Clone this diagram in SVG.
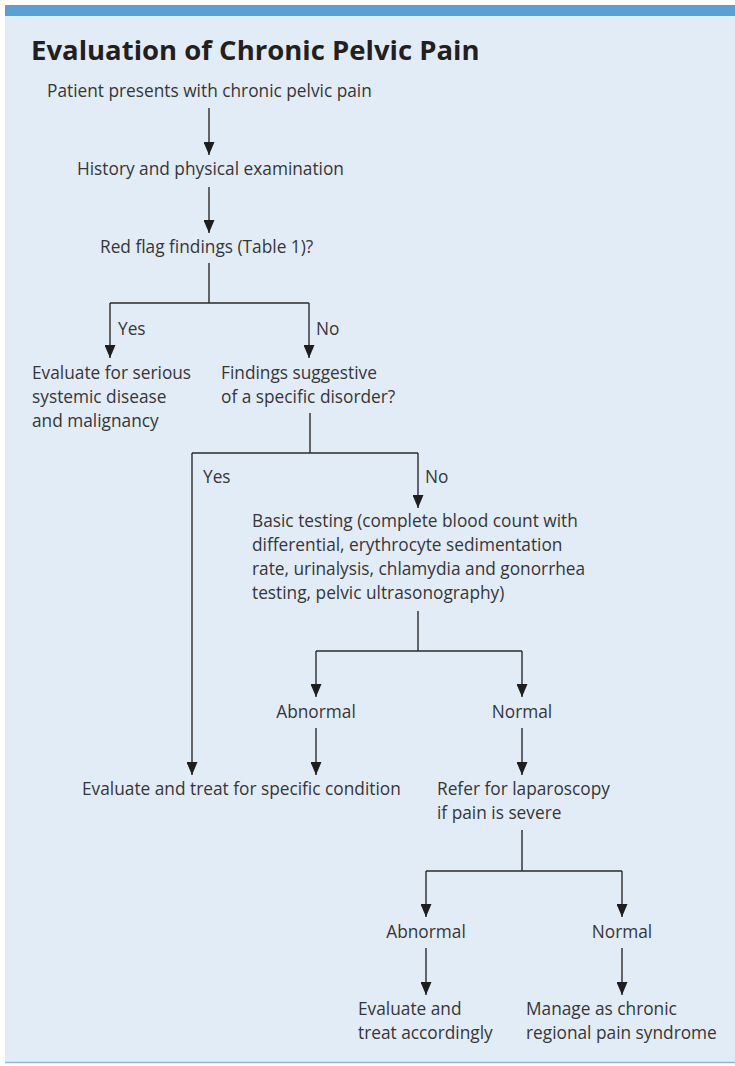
<svg xmlns="http://www.w3.org/2000/svg" width="735" height="1066" viewBox="0 0 735 1066">
<defs>
<style>
.t{font-family:"Open Sans","Noto Sans","Liberation Sans",sans-serif;font-size:17.3px;fill:#363636;}
.c{text-anchor:middle;}
.title{font-family:"Open Sans","Noto Sans","Liberation Sans",sans-serif;font-size:27.5px;font-weight:bold;fill:#231f20;}
.ln{fill:none;stroke:#2b2b2b;stroke-width:1.4;}
.ar{marker-end:url(#ah);}
</style>
<marker id="ah" markerUnits="userSpaceOnUse" markerWidth="13" markerHeight="11" refX="13" refY="5.5" orient="auto" viewBox="0 0 13 11">
<path d="M0,0 L13,5.5 L0,11 z" fill="#1e1e1e"/>
</marker>
</defs>
<rect x="5" y="5" width="730" height="1058" fill="#e2ecf7"/>
<rect x="5" y="5" width="730" height="11" fill="#5a9fd5"/>
<line x1="5" y1="1062.5" x2="735" y2="1062.5" stroke="#8db6da" stroke-width="1.5"/>
<text class="title" x="31" y="60">Evaluation of Chronic Pelvic Pain</text>

<g id="connectors">
<path class="ln ar" d="M209,108 V155"/>
<path class="ln ar" d="M209,187 V233"/>
<path class="ln" d="M209,263 V303 M110,303 H309"/>
<path class="ln ar" d="M110,303 V358"/>
<path class="ln ar" d="M309,303 V358"/>
<path class="ln" d="M310,413 V453 M192,453 H418"/>
<path class="ln ar" d="M192,453 V775"/>
<path class="ln ar" d="M418,453 V508"/>
<path class="ln" d="M418,611 V651 M316,651 H522"/>
<path class="ln ar" d="M316,651 V697"/>
<path class="ln ar" d="M522,651 V697"/>
<path class="ln ar" d="M316,728 V775"/>
<path class="ln ar" d="M522,728 V775"/>
<path class="ln" d="M522,830 V871 M426,871 H622"/>
<path class="ln ar" d="M426,871 V917"/>
<path class="ln ar" d="M622,871 V917"/>
<path class="ln ar" d="M426,948 V995"/>
<path class="ln ar" d="M622,948 V995"/>
<text class="t" x="118" y="335">Yes</text>
<text class="t" x="316" y="335">No</text>
<text class="t" x="203" y="483">Yes</text>
<text class="t" x="425" y="483">No</text>
</g>

<g id="n-start"><text class="t" x="47" y="97">Patient presents with chronic pelvic pain</text></g>
<g id="n-history"><text class="t" x="77" y="175">History and physical examination</text></g>
<g id="n-redflag"><text class="t" x="100" y="253">Red flag findings (Table 1)?</text></g>
<g id="n-serious"><text class="t" x="32" y="379">Evaluate for serious</text><text class="t" x="32" y="403">systemic disease</text><text class="t" x="32" y="427">and malignancy</text></g>
<g id="n-findings"><text class="t" x="221" y="379">Findings suggestive</text><text class="t" x="221" y="403">of a specific disorder?</text></g>
<g id="n-basic"><text class="t" x="252" y="527">Basic testing (complete blood count with</text><text class="t" x="252" y="551">differential, erythrocyte sedimentation</text><text class="t" x="252" y="575">rate, urinalysis, chlamydia and gonorrhea</text><text class="t" x="252" y="599">testing, pelvic ultrasonography)</text></g>
<g id="n-abn1"><text class="t c" x="316" y="718">Abnormal</text></g>
<g id="n-norm1"><text class="t c" x="522" y="718">Normal</text></g>
<g id="n-treat"><text class="t" x="82" y="795">Evaluate and treat for specific condition</text></g>
<g id="n-lap"><text class="t" x="437" y="795">Refer for laparoscopy</text><text class="t" x="437" y="819">if pain is severe</text></g>
<g id="n-abn2"><text class="t c" x="426" y="938">Abnormal</text></g>
<g id="n-norm2"><text class="t c" x="622" y="938">Normal</text></g>
<g id="n-evaltreat"><text class="t" x="358" y="1015">Evaluate and</text><text class="t" x="358" y="1039">treat accordingly</text></g>
<g id="n-manage"><text class="t" x="526" y="1015">Manage as chronic</text><text class="t" x="526" y="1039">regional pain syndrome</text></g>
</svg>
